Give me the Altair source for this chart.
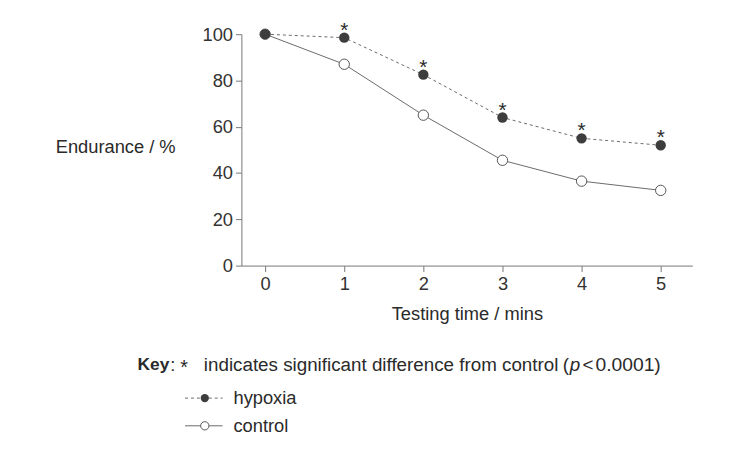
import altair as alt
import pandas as pd

# ---- data ----
time = [0, 1, 2, 3, 4, 5]
hypoxia = [100, 98.5, 82.5, 64, 55, 52]
control = [100, 87, 65, 45.5, 36.5, 32.5]
sig_times = [1, 2, 3, 4, 5]          # points marked with *
x_ticks = [0, 1, 2, 3, 4, 5]
y_ticks = [0, 20, 40, 60, 80, 100]

FONT = "Liberation Sans, Arial, Helvetica, sans-serif"
FS = 18.5
DARK = "#3d3d3d"
LINE = "#6a6a6a"
TXT = "#2a2a2a"

hyp_df = pd.DataFrame({"time": time, "value": hypoxia})
con_df = pd.DataFrame({"time": time, "value": control})
sig_df = hyp_df[hyp_df["time"].isin(sig_times)]

x_enc = alt.X("time:Q",
              scale=alt.Scale(domain=[-0.3, 5.4], nice=False, zero=False),
              axis=alt.Axis(values=x_ticks, title="Testing time / mins", format="d"))
y_enc = alt.Y("value:Q",
              scale=alt.Scale(domain=[0, 100], nice=False),
              axis=alt.Axis(values=y_ticks, title="Endurance / %", titleAngle=0,
                            titleAlign="right", titleBaseline="middle",
                            titleX=-67, titleY=114))

con_line = alt.Chart(con_df).mark_line(color=LINE, strokeWidth=1).encode(x=x_enc, y=y_enc)
con_pts = alt.Chart(con_df).mark_point(filled=True, fill="white", stroke="#555555",
                                       strokeWidth=1, size=110, opacity=1).encode(x=x_enc, y=y_enc)
hyp_line = alt.Chart(hyp_df).mark_line(color=LINE, strokeWidth=1, strokeDash=[3, 3]).encode(x=x_enc, y=y_enc)
hyp_pts = alt.Chart(hyp_df).mark_circle(color=DARK, size=110, opacity=1).encode(x=x_enc, y=y_enc)
stars = alt.Chart(sig_df).mark_text(text="*", fontSize=21, font=FONT, color=TXT,
                                    baseline="alphabetic", dy=-1).encode(x=x_enc, y=y_enc)

one = alt.Data(values=[{"k": 1}])

def txt(s, x, y, size=FS, align="left", **kw):
    return alt.Chart(one).mark_text(text=s, align=align, baseline="middle", font=FONT,
                                    fontSize=size, color=TXT, **kw).encode(
        x=alt.value(x), y=alt.value(y))

KEY_Y = 335
key_layers = [
    txt("Key", -105, KEY_Y, size=17.5, fontWeight="bold"),
    txt(":", -72, KEY_Y),
    txt("*", -58, KEY_Y + 3, size=20, align="center"),
    txt("indicates significant difference from control", -38, KEY_Y, size=19),
    txt("(", 325, KEY_Y, size=19),
    txt("p", 332, KEY_Y, size=19, fontStyle="italic"),
    txt("<", 345, KEY_Y, size=19),
    txt("0.0001)", 358, KEY_Y, size=19.5),
]

HY, CY = 368, 396
leg = [
    alt.Chart(one).mark_rule(color=LINE, strokeWidth=1, strokeDash=[3, 3]).encode(
        x=alt.value(-57), x2=alt.value(-19), y=alt.value(HY)),
    alt.Chart(one).mark_circle(color=DARK, size=70, opacity=1).encode(
        x=alt.value(-37), y=alt.value(HY)),
    txt("hypoxia", -8, HY),
    alt.Chart(one).mark_rule(color=LINE, strokeWidth=1).encode(
        x=alt.value(-57), x2=alt.value(-19), y=alt.value(CY)),
    alt.Chart(one).mark_point(filled=True, fill="white", stroke="#555555", strokeWidth=1,
                              size=70, opacity=1).encode(x=alt.value(-37), y=alt.value(CY)),
    txt("control", -8, CY),
]

chart = alt.layer(con_line, hyp_line, con_pts, hyp_pts, stars, *key_layers, *leg).properties(
    width=456, height=234,
    autosize=alt.AutoSizeParams(type="none"),
    padding={"left": 236, "top": 24, "right": 32, "bottom": 185},
).configure_view(stroke=None).configure_axis(
    grid=False, domainColor="#777777", tickColor="#777777", tickSize=6,
    labelFont=FONT, labelFontSize=FS, labelColor="#333333", labelPadding=3,
    titleFont=FONT, titleFontSize=FS, titleColor=TXT, titleFontWeight="normal",
).configure_axisX(titlePadding=12)

chart.save("out.html", embed_options={"renderer": "svg", "actions": False})
